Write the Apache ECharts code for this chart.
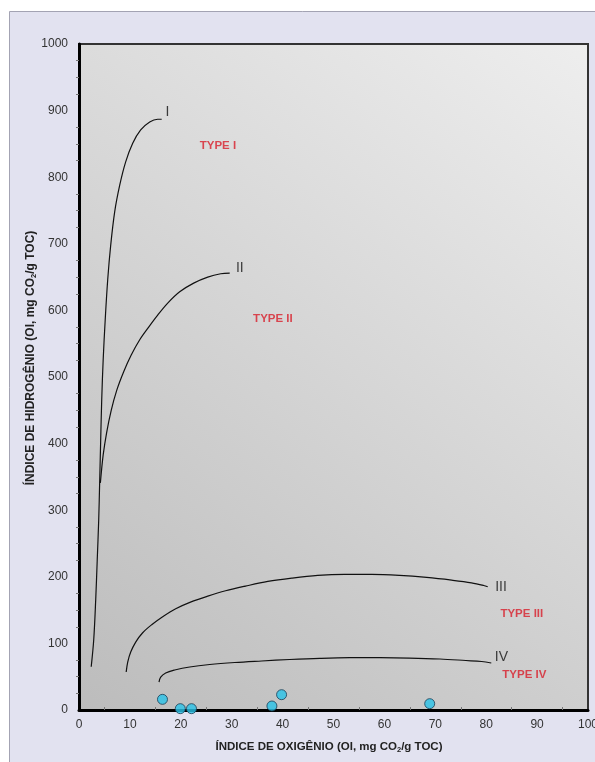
<!DOCTYPE html>
<html>
<head>
<meta charset="utf-8">
<script src="https://cdn.jsdelivr.net/npm/echarts@6/dist/echarts.min.js"></script>
<style>
html,body{margin:0;padding:0;background:#fff;}
#chart{width:595px;height:762px;}
</style>
</head>
<body>
<div id="chart"></div>
<script>
// Maturation pathway curves (OI, HI)
const curveI = [[2.40,65],[2.89,105],[3.28,165],[3.58,225],[3.87,285],[4.07,345],[4.26,405],[4.46,465],[4.75,526],[5.15,586],[5.64,646],[6.23,698],[7.01,748],[8.00,788],[9.17,823],[10.55,851],[12.12,871],[13.89,883],[15.46,887],[16.25,887]];
const curveII = [[4.20,341],[4.75,383],[5.44,417],[6.33,450],[7.41,480],[8.78,508],[10.26,533],[11.93,556],[13.69,575],[15.46,593],[17.43,611],[19.78,628],[22.53,641],[25.29,650],[27.84,655],[29.61,656]];
const curveIII = [[9.27,57],[9.57,72],[10.16,87],[11.14,102],[12.51,116],[14.28,128],[16.44,140],[19.0,152],[21.9,162],[25.3,171],[28.8,179],[32.7,186],[37.1,193],[41.8,198],[46.9,202],[52.2,203.5],[57.5,203.5],[63.0,202],[68.3,199],[73.2,195],[77.1,191],[79.5,187],[80.3,185]];
const curveIV = [[15.72,42],[16.05,49.5],[17.03,55.6],[18.8,60],[21.75,64.6],[25.68,68.3],[30.6,71.3],[35.9,73.6],[41.4,75.8],[47.3,77.6],[53.2,78.5],[59.1,78.5],[64.9,78],[70.9,76.6],[76.0,74.3],[79.1,72.8],[81.0,70.6]];
// Sample points (OI, HI)
const samples = [[16.4,16],[19.9,2],[22.1,2],[37.9,6],[39.8,23],[68.9,9.5]];
// Curve labels
const curveLabels = [['I',17.4,897],['II',31.6,664],['III',82.9,185],['IV',83.0,79]];
// Kerogen type labels
const typeLabels = [['TYPE I',27.3,847],['TYPE II',38.1,587],['TYPE III',87.0,144],['TYPE IV',87.5,53]];

const chart = echarts.init(document.getElementById('chart'), null, {renderer:'canvas'});
const font = 'Liberation Sans, Arial, sans-serif';
function richFor(sz){
  return {
    b:{fontFamily:font,fontSize:sz,fontWeight:'bold',color:'#222'},
    s:{fontFamily:font,fontSize:7.5,fontWeight:'bold',color:'#222',verticalAlign:'bottom',padding:[6,0,0,0]}
  };
}
function lineSeries(d){
  return {type:'line',data:d,smooth:0.35,symbol:'none',lineStyle:{color:'#111',width:1.2},z:3,silent:true};
}
chart.setOption({
  animation:false,
  backgroundColor:'#ffffff',
  graphic:[{type:'rect',left:9,top:11,shape:{width:600,height:760},style:{fill:'#e2e2f0',stroke:'#a3a3b3',lineWidth:1},z:-10}],
  grid:{left:79,top:44,right:7,bottom:52,show:true,borderColor:'#333',borderWidth:2,
    outerBoundsMode:'none',containLabel:false,
    backgroundColor:new echarts.graphic.LinearGradient(0,1,1,0,[{offset:0,color:'#bcbcbc'},{offset:1,color:'#eeeeee'}])},
  xAxis:{type:'value',min:0,max:100,interval:10,
    name:'{b|ÍNDICE DE OXIGÊNIO (OI, mg CO}{s|2}{b|/g TOC)}',nameLocation:'middle',nameGap:30,nameMoveOverlap:false,
    nameTextStyle:{rich:richFor(11.5),padding:[0,9,0,0]},
    axisLine:{show:true,onZero:false,lineStyle:{color:'#000',width:3}},
    axisTick:{show:false},
    minorTick:{show:true,splitNumber:2,length:-3,lineStyle:{color:'#777'}},
    splitLine:{show:false},
    axisLabel:{fontFamily:font,fontSize:12,color:'#333',margin:9,formatter:v=>String(v)}},
  yAxis:{type:'value',min:0,max:1000,interval:100,
    name:'{b|ÍNDICE DE HIDROGÊNIO (OI, mg CO}{s|2}{b|/g TOC)}',nameLocation:'middle',nameGap:41,nameRotate:90,nameMoveOverlap:false,
    nameTextStyle:{rich:richFor(12),padding:[0,0,0,38]},
    axisLine:{show:true,onZero:false,lineStyle:{color:'#000',width:3}},
    axisTick:{show:false},
    minorTick:{show:true,splitNumber:4,length:3,lineStyle:{color:'#777'}},
    splitLine:{show:false},
    axisLabel:{fontFamily:font,fontSize:12,color:'#333',margin:11,formatter:v=>String(v)}},
  series:[
    lineSeries(curveI),lineSeries(curveII),lineSeries(curveIII),lineSeries(curveIV),
    {type:'scatter',data:samples,symbol:'circle',symbolSize:10,
      itemStyle:{color:'#29c3e8',borderColor:'#1b3d55',borderWidth:1},z:5},
    {type:'scatter',data:curveLabels.map(d=>({value:[d[1],d[2]],name:d[0]})),symbolSize:0,silent:true,
      label:{show:true,position:'inside',formatter:p=>p.name,fontFamily:font,fontSize:14,color:'#111'},z:6},
    {type:'scatter',data:typeLabels.map(d=>({value:[d[1],d[2]],name:d[0]})),symbolSize:0,silent:true,
      label:{show:true,position:'inside',formatter:p=>p.name,fontFamily:font,fontSize:11.5,fontWeight:'bold',color:'#d81e2a'},z:6}
  ]
});
</script>
</body>
</html>
